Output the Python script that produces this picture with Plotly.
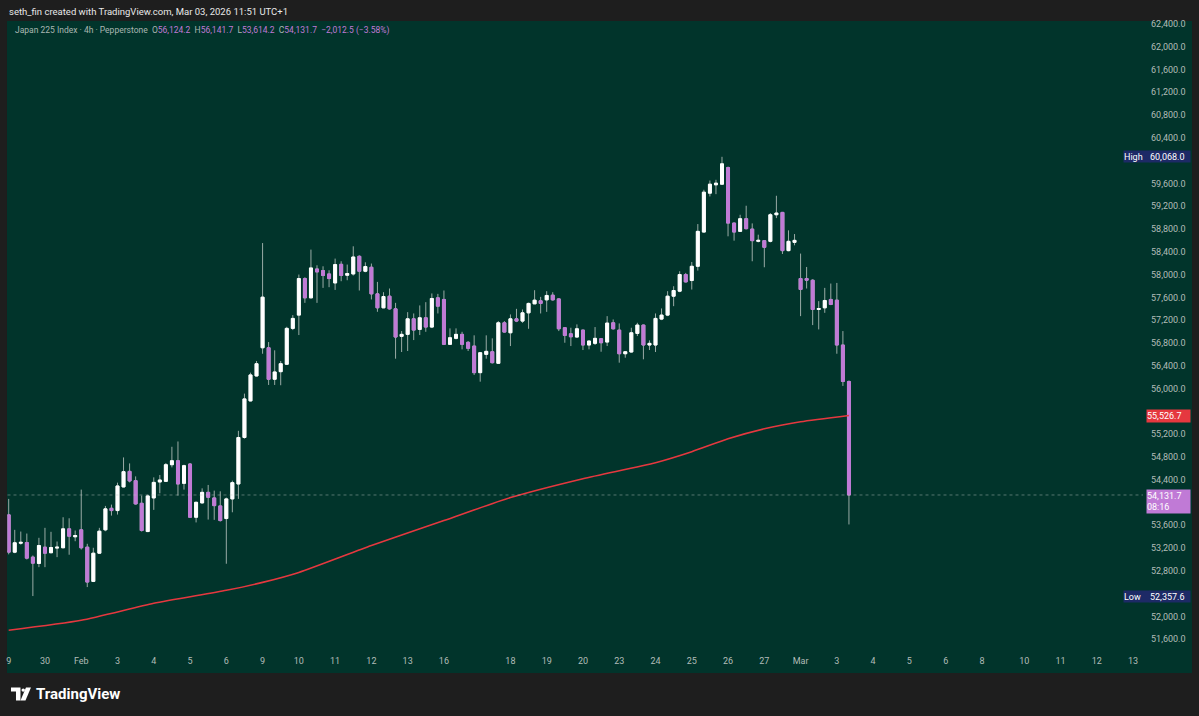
import plotly.graph_objects as go

# ---------------- data ----------------
open_ = [53783, 53128, 53285, 53298, 53041, 52930, 53216, 53118, 53200, 53205,
         53537, 53398, 53520, 53216, 52615, 53110, 53520, 53898, 53858, 54273,
         54546, 54383, 53986, 53490, 54080, 54360, 54371, 54663, 54733, 54336,
         54675, 53741, 53993, 54178, 54080, 53940, 53718, 54063, 54325, 55141,
         55783, 56221, 56716, 56716, 56163, 56296, 56426, 57056, 57289, 57931,
         57592, 58099, 58071, 58012, 57854, 58181, 57989, 58012, 58321, 58059,
         58129, 57662, 57417, 57621, 57399, 56916, 56951, 57224, 57038, 57242,
         57079, 57592, 57564, 56776, 56881, 56951, 56811, 56746, 56279, 56600,
         56646, 56443, 57154, 56979, 57224, 57184, 57329, 57487, 57540, 57557,
         57639, 57574, 57067, 56961, 56904, 57026, 56764, 56793, 56874, 56816,
         57154, 57026, 56611, 56641, 56968, 57114, 56764, 56764, 57219, 57289,
         57621, 57709, 58001, 57896, 58146, 58747, 59430, 59576, 59587, 59879,
         58904, 58759, 58981, 58799, 58584, 58596, 58584, 59051, 59092, 58421,
         58566, 57931, 57931, 57901, 57388, 57417, 57564, 57551, 56764, 56124.2]
high_ = [54063, 53520, 53490, 53455, 53070, 53380, 53555, 53485, 53315, 53741,
         53723, 53508, 54226, 53275, 53205, 53555, 53940, 53963, 54348, 54791,
         54686, 54458, 54121, 54138, 54441, 54483, 54693, 54978, 55071, 54663,
         54693, 54015, 54248, 54308, 54208, 54196, 54086, 54383, 55258, 55911,
         56279, 56484, 58554, 56816, 56671, 56484, 57084, 57289, 58001, 57954,
         58439, 58164, 58146, 58076, 58281, 58234, 58176, 58497, 58339, 58216,
         58194, 57872, 57691, 57756, 57504, 57009, 57341, 57318, 57459, 57516,
         57669, 57662, 57721, 57056, 57056, 56996, 56834, 56934, 56641, 56934,
         56881, 57184, 57184, 57301, 57399, 57388, 57508, 57726, 57609, 57709,
         57691, 57586, 57079, 57067, 57126, 57035, 56843, 57079, 56886, 57271,
         57213, 57143, 56659, 57067, 57154, 57123, 56846, 57318, 57406, 57709,
         57796, 58059, 58030, 58222, 58887, 59489, 59652, 59664, 60068, 59897,
         58916, 59051, 59209, 58899, 58701, 58601, 59080, 59384, 59100, 58777,
         58712, 58369, 58134, 57919, 57534, 57767, 57843, 57854, 57009, 56141.7]
low_ = [53090, 53110, 53260, 53000, 52357.6, 52865, 52865, 53110, 53041, 53200,
        53083, 53320, 53175, 52515, 52603, 53105, 53496, 53770, 53788, 54266,
        54353, 53963, 53490, 53480, 53870, 54161, 54365, 54616, 54121, 54226,
        53735, 53650, 53980, 53700, 53695, 53665, 52925, 53828, 54063, 55120,
        55775, 56212, 56611, 56063, 56063, 56058, 56413, 57026, 56939, 57504,
        57586, 57504, 57767, 57779, 57731, 57884, 57901, 57984, 57721, 58041,
        57564, 57347, 57411, 57385, 56524, 56641, 56659, 56851, 56939, 56996,
        57061, 57318, 56764, 56764, 56863, 56688, 56659, 56239, 56121, 56524,
        56440, 56431, 56982, 56746, 57166, 57154, 57049, 57487, 57318, 57346,
        57543, 57009, 56804, 56746, 56895, 56676, 56688, 56764, 56646, 56746,
        57035, 56454, 56541, 56632, 56921, 56513, 56676, 56641, 57201, 57271,
        57446, 57691, 57862, 57738, 58071, 58741, 59372, 59412, 59582, 58672,
        58596, 58750, 58794, 58234, 58566, 58129, 58566, 58992, 58362, 58409,
        58514, 57271, 57756, 57114, 57038, 57329, 57464, 56611, 56046, 53614.2]
close_ = [53128, 53293, 53300, 53023, 52935, 53245, 53110, 53210, 53215, 53537,
          53408, 53420, 53205, 52603, 53110, 53496, 53888, 53858, 54290, 54541,
          54378, 53975, 53508, 54115, 54353, 54395, 54663, 54733, 54325, 54646,
          53741, 54003, 54178, 54091, 53945, 53683, 54063, 54348, 55141, 55818,
          56239, 56436, 57604, 56163, 56291, 56436, 57056, 57231, 57931, 57592,
          58117, 58047, 57984, 57931, 58176, 57984, 58019, 58309, 58059, 58141,
          57662, 57417, 57616, 57399, 56904, 56951, 57224, 57026, 57242, 57079,
          57581, 57446, 56776, 56892, 56951, 56776, 56706, 56279, 56629, 56653,
          56454, 57154, 56991, 57224, 57184, 57329, 57494, 57551, 57494, 57634,
          57557, 57049, 56933, 56909, 57049, 56764, 56834, 56881, 56804, 57149,
          57049, 56611, 56646, 56979, 57114, 56764, 56793, 57231, 57289, 57621,
          57721, 58001, 57872, 58146, 58759, 59447, 59587, 59605, 59944, 58904,
          58747, 58981, 58806, 58596, 58601, 58479, 59051, 59080, 58421, 58584,
          58601, 57739, 57901, 57388, 57405, 57546, 57476, 56764, 56124.2, 54131.7]

# moving average (read at day starts)
ma_idx = [0, 12, 24, 36, 42, 48, 60, 72, 83, 95, 107, 113, 119, 125, 131, 139]
ma_val = [51758, 51933, 52230, 52458, 52598, 52773, 53245, 53683, 54086, 54418,
          54698, 54891, 55118, 55294, 55416, 55526.7]

# time axis labels (bar index of each day's first bar)
tick_idx = [0, 6, 12, 18, 24, 30, 36, 42, 48, 54, 60, 66, 72, 83, 89, 95, 101,
            107, 113, 119, 125, 131, 137, 143, 149, 155, 161, 168, 174, 180, 186]
tick_text = ["9", "30", "Feb", "3", "4", "5", "6", "9", "10", "11", "12", "13",
             "16", "18", "19", "20", "23", "24", "25", "26", "27", "Mar", "3",
             "4", "5", "6", "8", "10", "11", "12", "13"]

# price axis labels (those hidden behind the value boxes are left out)
price_ticks = [51600, 52000, 52800, 53200, 53600, 54400, 54800, 55200, 56000,
               56400, 56800, 57200, 57600, 58000, 58400, 58800, 59200, 59600,
               60400, 60800, 61200, 61600, 62000, 62400]
high_val, low_val = 60068.0, 52357.6
last_close, ma_last = 54131.7, 55526.7
timer = "08:16"

# ---------------- style ----------------
W, H = 1199, 716
BG_DARK = "#1e1e1e"
PANEL = "#01342b"
UP = "#ffffff"
DOWN = "#c07ad6"
WICK = "#9aaba6"
TXT = "#b2bcb8"
RED = "#e5383f"
NAVY = "#1d2a66"
FONT = "Roboto"

def X(px):
    return px / W

def Y(py):
    return 1 - py / H

x_left_px, x_right_px = 6.5, 1143
y_top_px, y_bot_px = 19, 654
bar0_px, bar_w = 7.7, 6.05
p_top_px, p_scale = 22, 0.05713  # 62400 at 22px; px per point

xr = [(x_left_px - bar0_px) / bar_w, (x_right_px - bar0_px) / bar_w]
yr = [62400 - (y_bot_px - p_top_px) / p_scale, 62400 + (p_top_px - y_top_px) / p_scale]

idx = list(range(len(open_)))
body_hi = [max(o, c) for o, c in zip(open_, close_)]
body_lo = [min(o, c) for o, c in zip(open_, close_)]

fig = go.Figure()

# wicks
fig.add_trace(go.Candlestick(
    x=idx, open=open_, high=high_, low=low_, close=close_,
    increasing=dict(line=dict(color=WICK, width=1), fillcolor=WICK),
    decreasing=dict(line=dict(color=WICK, width=1), fillcolor=WICK),
    hoverinfo="skip", showlegend=False))
# bodies
fig.add_trace(go.Candlestick(
    x=idx, open=open_, high=body_hi, low=body_lo, close=close_,
    increasing=dict(line=dict(color=UP, width=1), fillcolor=UP),
    decreasing=dict(line=dict(color=DOWN, width=1), fillcolor=DOWN),
    hoverinfo="skip", showlegend=False))
# moving average
fig.add_trace(go.Scatter(
    x=ma_idx, y=ma_val, mode="lines", line=dict(color=RED, width=1.6, shape="spline", smoothing=0.6),
    hoverinfo="skip", showlegend=False))

shapes = [
    # green chart panel
    dict(type="rect", xref="paper", yref="paper", x0=X(6), x1=X(1192), y0=Y(673), y1=Y(19),
         fillcolor=PANEL, line=dict(width=0), layer="below"),
    # current price dotted line
    dict(type="line", xref="paper", yref="y", x0=X(x_left_px), x1=X(x_right_px),
         y0=last_close, y1=last_close, line=dict(color="rgba(190,200,196,0.45)", width=1, dash="dot")),
    # TradingView logo
    dict(type="path", xref="paper", yref="paper",
         path=f"M {X(10)} {Y(687.5)} L {X(19.5)} {Y(687.5)} L {X(19.5)} {Y(700.5)} L {X(15)} {Y(700.5)} L {X(15)} {Y(691.5)} L {X(10)} {Y(691.5)} Z",
         fillcolor="#ffffff", line=dict(width=0)),
    dict(type="circle", xref="paper", yref="paper", x0=X(20.5), x1=X(24), y0=Y(691.8), y1=Y(688.3),
         fillcolor="#ffffff", line=dict(width=0)),
    dict(type="path", xref="paper", yref="paper",
         path=f"M {X(25)} {Y(687.5)} L {X(30)} {Y(687.5)} L {X(24.5)} {Y(700.5)} L {X(19.5)} {Y(700.5)} Z",
         fillcolor="#ffffff", line=dict(width=0)),
]

def box(text, xpx, y, w, h, bg, anchor="middle", yshift=0, size=9, align="left"):
    return dict(text=text, xref="paper", yref="y", x=X(xpx), y=y, xanchor="left", yanchor=anchor,
                yshift=yshift, showarrow=False, bgcolor=bg, width=w, height=h, align=align,
                valign="middle", borderpad=0, font=dict(family=FONT, size=size, color="#ffffff"))

annotations = [
    dict(text="seth_fin created with TradingView.com, Mar 03, 2026 11:51 UTC+1",
         xref="paper", yref="paper", x=X(6.5), y=Y(10), xanchor="left", yanchor="middle",
         showarrow=False, font=dict(family=FONT, size=9.5, color="#e8e8e8")),
    dict(text=("Japan 225 Index · 4h · Pepperstone&nbsp;&nbsp;"
               f"O<span style='color:{DOWN}'>56,124.2</span>&nbsp;&nbsp;"
               f"H<span style='color:{DOWN}'>56,141.7</span>&nbsp;&nbsp;"
               f"L<span style='color:{DOWN}'>53,614.2</span>&nbsp;&nbsp;"
               f"C<span style='color:{DOWN}'>54,131.7</span>&nbsp;&nbsp;"
               f"<span style='color:{DOWN}'>−2,012.5 (−3.58%)</span>"),
         xref="paper", yref="paper", x=X(12), y=Y(29), xanchor="left", yanchor="middle",
         showarrow=False, font=dict(family=FONT, size=8.5, color="#a9b6b1")),
    dict(text="<b>TradingView</b>", xref="paper", yref="paper", x=X(33), y=Y(694),
         xanchor="left", yanchor="middle", showarrow=False,
         font=dict(family=FONT, size=15, color="#ffffff")),
    # High / Low markers
    box("High", 1123, high_val, 26, 11, NAVY),
    box(f"{high_val:,.1f}", 1149, high_val, 40, 11, NAVY),
    box("Low", 1123, low_val, 26, 11, NAVY),
    box(f"{low_val:,.1f}", 1149, low_val, 40, 11, NAVY),
    # MA label
    box(f"{ma_last:,.1f}", 1146, ma_last, 43, 12, RED),
    # last price label
    box(f"{last_close:,.1f}<br>{timer}", 1146, last_close, 43, 23, DOWN, anchor="top", yshift=6),
]

fig.update_layout(
    width=W, height=H, margin=dict(l=0, r=0, t=0, b=0),
    paper_bgcolor=BG_DARK, plot_bgcolor="rgba(0,0,0,0)",
    shapes=shapes, annotations=annotations, hovermode=False,
    xaxis=dict(domain=[X(x_left_px), X(x_right_px)], range=xr, rangeslider=dict(visible=False),
               showgrid=False, zeroline=False, showline=False, ticks="",
               tickmode="array", tickvals=tick_idx, ticktext=tick_text,
               tickfont=dict(family=FONT, size=9, color=TXT), anchor="y"),
    yaxis=dict(domain=[Y(y_bot_px), Y(y_top_px)], range=yr, side="right",
               showgrid=False, zeroline=False, showline=False, ticks="",
               tickmode="array", tickvals=price_ticks,
               ticktext=[f"{v:,.1f}" for v in price_ticks],
               tickfont=dict(family=FONT, size=9, color=TXT), ticklabelstandoff=7, anchor="x"),
    boxgap=0.3,
)

fig.write_html("out.html", config={"displayModeBar": False},
               post_script="document.body.style.margin='0';document.body.style.overflow='hidden';document.body.style.background='#1e1e1e';")
